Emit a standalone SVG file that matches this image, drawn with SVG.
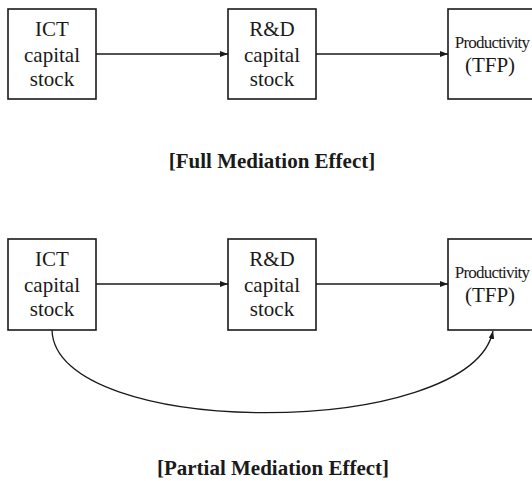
<svg xmlns="http://www.w3.org/2000/svg" width="532" height="481" viewBox="0 0 532 481">
<style>
.box{fill:#fff;stroke:#1a1a1a;stroke-width:1.6}
.t{font-family:"Liberation Serif","DejaVu Serif",serif;font-size:21px;fill:#1a1a1a;text-anchor:middle}
.tc{font-family:"Liberation Serif","DejaVu Serif",serif;font-size:17px;fill:#1a1a1a;text-anchor:middle;letter-spacing:-0.8px}
.h{font-family:"Liberation Serif","DejaVu Serif",serif;font-size:21px;font-weight:bold;fill:#1a1a1a;text-anchor:middle}
.c{fill:none;stroke:#1a1a1a;stroke-width:1.3}
</style>
<defs>
<marker id="ah" markerWidth="8" markerHeight="6" refX="8" refY="3" orient="auto" markerUnits="userSpaceOnUse">
<path d="M0,0 L8,3 L0,6 Z" fill="#1a1a1a"/>
</marker>
</defs>
<g id="top-ict"><rect class="box" x="8" y="9" width="88" height="90"/>
<text class="t" x="52" y="36">ICT</text><text class="t" x="52" y="62">capital</text><text class="t" x="52" y="86">stock</text></g>
<g id="top-rd"><rect class="box" x="228" y="9" width="88" height="90"/>
<text class="t" x="272" y="36">R&amp;D</text><text class="t" x="272" y="62">capital</text><text class="t" x="272" y="86">stock</text></g>
<g id="top-tfp"><rect class="box" x="448" y="9" width="100" height="90"/>
<text class="tc" x="492" y="48">Productivity</text><text class="t" x="490" y="72">(TFP)</text></g>
<g id="bot-ict"><rect class="box" x="8" y="239" width="88" height="91"/>
<text class="t" x="52" y="266">ICT</text><text class="t" x="52" y="292">capital</text><text class="t" x="52" y="316">stock</text></g>
<g id="bot-rd"><rect class="box" x="228" y="239" width="88" height="91"/>
<text class="t" x="272" y="266">R&amp;D</text><text class="t" x="272" y="292">capital</text><text class="t" x="272" y="316">stock</text></g>
<g id="bot-tfp"><rect class="box" x="448" y="239" width="100" height="91"/>
<text class="tc" x="492" y="278">Productivity</text><text class="t" x="490" y="302">(TFP)</text></g>
<g id="connectors">
<line class="c" x1="96" y1="54" x2="228" y2="54" marker-end="url(#ah)"/>
<line class="c" x1="316" y1="54" x2="448" y2="54" marker-end="url(#ah)"/>
<line class="c" x1="96" y1="284" x2="228" y2="284" marker-end="url(#ah)"/>
<line class="c" x1="316" y1="284" x2="448" y2="284" marker-end="url(#ah)"/>
<path class="c" d="M52,330 C55,440 470,440 493,331" marker-end="url(#ah)"/>
</g>
<text class="h" x="272" y="168">[Full Mediation Effect]</text>
<text class="h" x="273" y="475">[Partial Mediation Effect]</text>
</svg>
